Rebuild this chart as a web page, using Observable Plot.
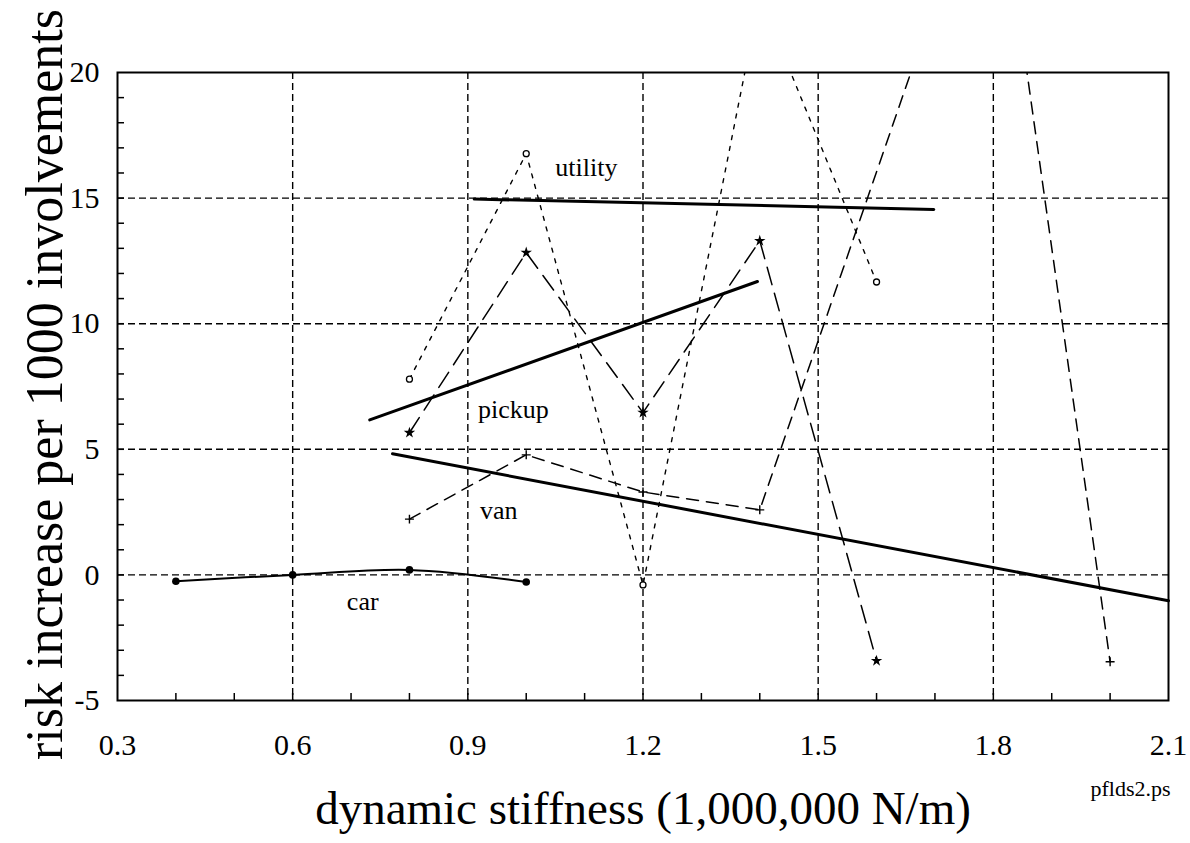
<!DOCTYPE html>
<html><head><meta charset="utf-8">
<script src="https://cdn.jsdelivr.net/npm/d3@7"></script>
<script src="https://cdn.jsdelivr.net/npm/@observablehq/plot@0.6"></script>
<style>
html,body{margin:0;padding:0;background:#fff}
#chart{width:1190px;height:843px}
</style>
</head><body><div id="chart"></div>
<script>
// ---- data ----
const carX = [0.4, 0.6, 0.8, 1.0];
const carY = [-0.25, 0.0, 0.2, -0.28];

const utilityX = [0.8, 1.0, 1.2, 1.4, 1.6];
const utilityY = [7.79, 16.77, -0.4, 23.0, 11.66];

const pickupX = [0.8, 1.0, 1.2, 1.4, 1.6];
const pickupY = [5.66, 12.83, 6.46, 13.3, -3.42];

const vanX = [0.8, 1.0, 1.2, 1.4, 1.8, 2.0];
const vanY = [2.22, 4.78, 3.3, 2.59, 29.5, -3.46];

// fitted (regression) lines: endpoints
const utilityFitX = [0.911, 1.698];
const utilityFitY = [14.96, 14.55];
const pickupFitX = [0.732, 1.396];
const pickupFitY = [6.17, 11.68];
const vanFitX = [0.771, 2.1];
const vanFitY = [4.82, -1.03];

// series labels
const labelText = ["utility", "pickup", "van", "car"];
const labelX = [1.103, 0.978, 0.953, 0.72];
const labelY = [16.2, 6.57, 2.55, -1.05];

// axes
const xTicks = [0.3, 0.6, 0.9, 1.2, 1.5, 1.8, 2.1];
const xGrid = [0.6, 0.9, 1.2, 1.5, 1.8];
const xMinor = [0.4, 0.5, 0.6, 0.7, 0.8, 0.9, 1.0, 1.1, 1.2, 1.3, 1.4, 1.5, 1.6, 1.7, 1.8, 1.9, 2.0];
const yTicks = [-5, 0, 5, 10, 15, 20];
const yGrid = [0, 5, 10, 15];
const yMinor = [-4, -3, -2, -1, 0, 1, 2, 3, 4, 5, 6, 7, 8, 9, 10, 11, 12, 13, 14, 15, 16, 17, 18, 19];

const xTitle = "dynamic stiffness (1,000,000 N/m)";
const yTitle = "risk increase per 1000 involvements";
const fileTag = "pflds2.ps";

// ---- build tables ----
const zip = (xs, ys) => xs.map((x, i) => ({x, y: ys[i]}));
const car = zip(carX, carY);
const utility = zip(utilityX, utilityY);
const pickup = zip(pickupX, pickupY);
const van = zip(vanX, vanY);
const utilityFit = zip(utilityFitX, utilityFitY);
const pickupFit = zip(pickupFitX, pickupFitY);
const vanFit = zip(vanFitX, vanFitY);
const labels = labelText.map((t, i) => ({t, x: labelX[i], y: labelY[i]}));

const serif = "'Liberation Serif','Times New Roman',Times,serif";
const ink = "black";

const chart = Plot.plot({
  width: 1190,
  height: 843,
  marginLeft: 117,
  marginRight: 22,
  marginTop: 72,
  marginBottom: 143,
  style: {fontFamily: serif, fontSize: "30px", color: ink, background: "white", overflow: "visible"},
  x: {domain: [0.3, 2.1], ticks: xTicks, tickFormat: d => d.toFixed(1), tickSize: 0, tickPadding: 33, label: null},
  y: {domain: [-5, 20], ticks: yTicks, tickFormat: d => String(d), tickSize: 0, tickPadding: 18, label: null},
  marks: [
    // grid
    Plot.ruleX(xGrid, {stroke: ink, strokeWidth: 1.4, strokeDasharray: "7,4"}),
    Plot.ruleY(yGrid, {stroke: ink, strokeWidth: 1.4, strokeDasharray: "7,4"}),
    // minor inward ticks
    Plot.ruleX(xMinor, {stroke: ink, strokeWidth: 1.5, insetTop: 621}),
    Plot.ruleY(yMinor, {stroke: ink, strokeWidth: 1.5, insetRight: 1044}),
    Plot.frame({stroke: ink, strokeWidth: 2}),
    // fitted lines
    Plot.line(utilityFit, {x: "x", y: "y", stroke: ink, strokeWidth: 3}),
    Plot.line(pickupFit, {x: "x", y: "y", stroke: ink, strokeWidth: 3}),
    Plot.line(vanFit, {x: "x", y: "y", stroke: ink, strokeWidth: 3}),
    // data series
    Plot.line(car, {x: "x", y: "y", stroke: ink, strokeWidth: 2, curve: "catmull-rom"}),
    Plot.line(utility, {x: "x", y: "y", stroke: ink, strokeWidth: 1.4, strokeDasharray: "4,7", clip: true}),
    Plot.line(pickup, {x: "x", y: "y", stroke: ink, strokeWidth: 1.5, strokeDasharray: "18,9", clip: true}),
    Plot.line(van, {x: "x", y: "y", stroke: ink, strokeWidth: 1.5, strokeDasharray: "12,8", clip: true}),
    Plot.dot(car, {x: "x", y: "y", r: 3.8, fill: ink, stroke: "none"}),
    Plot.dot(utility, {x: "x", y: "y", r: 3, fill: "white", stroke: ink, strokeWidth: 1.3, clip: true}),
    Plot.dot(pickup, {x: "x", y: "y", symbol: "star", r: 3.6, fill: ink, stroke: "none", clip: true}),
    Plot.dot(van, {x: "x", y: "y", symbol: "plus", r: 3, stroke: ink, strokeWidth: 1.4, fill: "none", clip: true}),
    // labels
    Plot.text(labels, {x: "x", y: "y", text: "t", fontSize: 26, fontFamily: serif, fill: ink, textAnchor: "middle", lineAnchor: "middle"}),
    // axis titles
    Plot.text([xTitle], {frameAnchor: "bottom", dy: 108, fontSize: 47, fontFamily: serif, fill: ink, textAnchor: "middle", lineAnchor: "middle"}),
    Plot.text([yTitle], {frameAnchor: "left", dx: -72, dy: -2, rotate: -90, fontSize: 52, fontFamily: serif, fill: ink, textAnchor: "middle", lineAnchor: "middle"}),
    Plot.text([fileTag], {frameAnchor: "bottom-right", dx: -78, dy: 88, fontSize: 22, fontFamily: serif, fill: ink, textAnchor: "start", lineAnchor: "middle"})
  ]
});
document.getElementById("chart").appendChild(chart);
</script>
</body></html>
